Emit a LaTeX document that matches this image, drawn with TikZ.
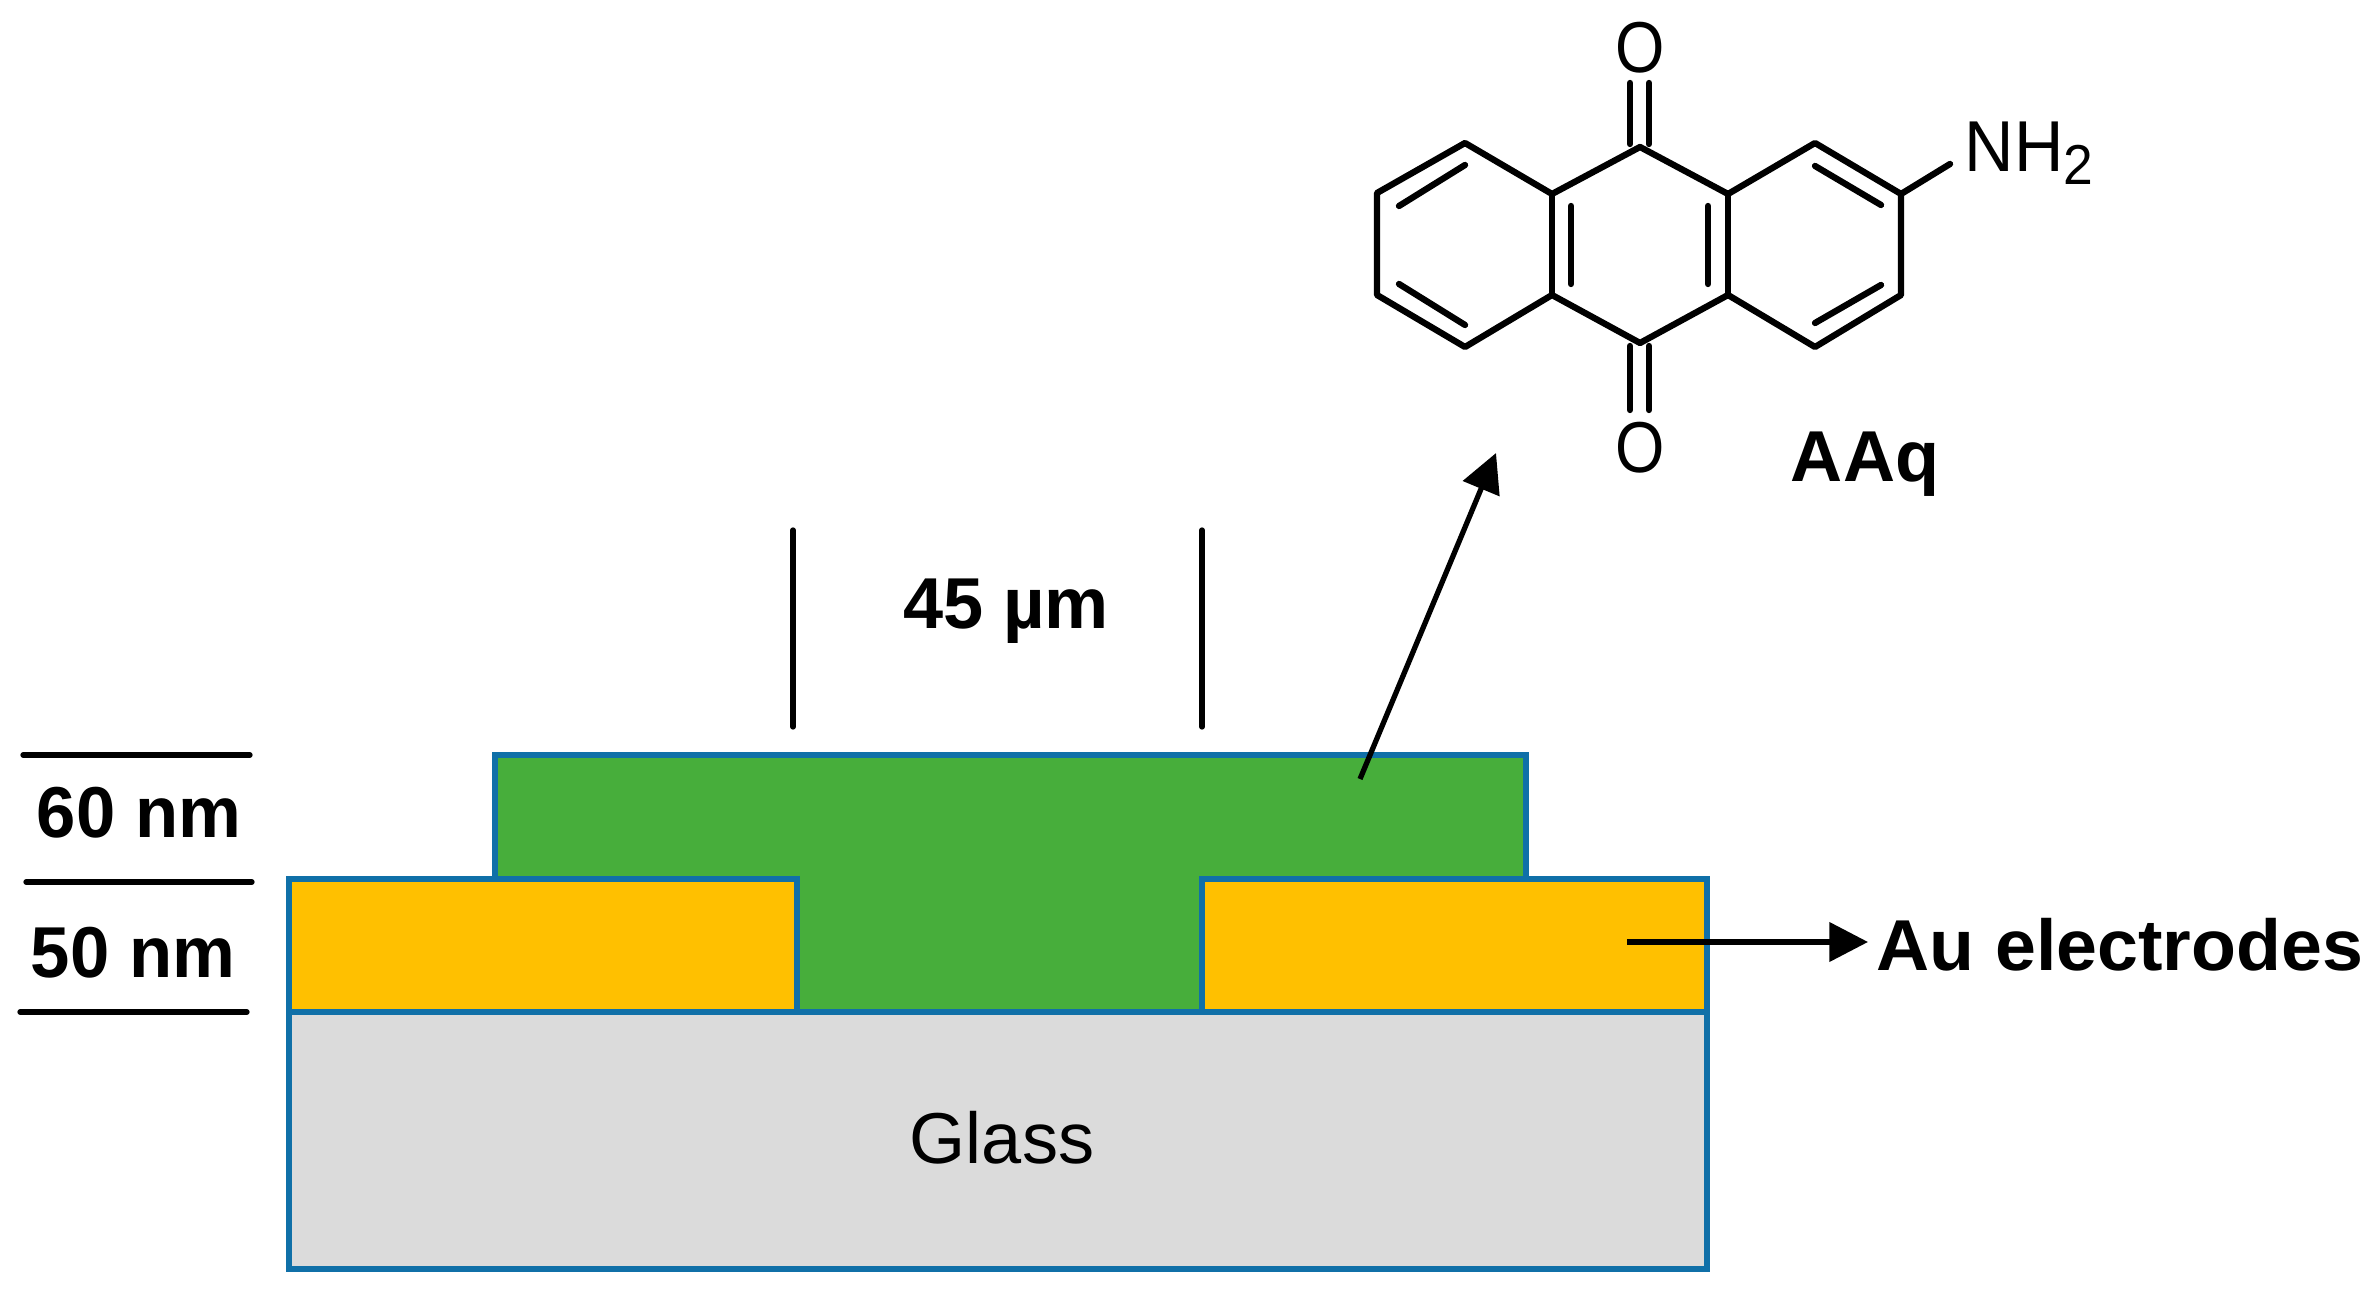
\documentclass[tikz,border=0pt]{standalone}
\usepackage{fontspec}
\setmainfont{Liberation Sans}
\usetikzlibrary{arrows.meta}
\definecolor{layerline}{HTML}{1070A8}
\definecolor{filmgreen}{HTML}{47AE3B}
\definecolor{augold}{HTML}{FFC000}
\definecolor{glassgray}{HTML}{DBDBDB}
\tikzset{
    layer/.style={draw=layerline, line width=1.45pt},
    bond/.style={black, line width=1.8pt, line cap=round, line join=round},
    mark line/.style={black, line width=1.5pt, line cap=round},
    pointer/.style={black, line width=1.5pt, -{Triangle[length=11pt, width=11pt]}},
    lbl/.style={inner sep=0pt, anchor=base, font=\fontsize{20.5}{24}\selectfont},
    boldlbl/.style={lbl, font=\fontsize{20.5}{24}\selectfont\bfseries},
}
\begin{document}
\begin{tikzpicture}[x=0.01cm, y=-0.01cm]
            \useasboundingbox (0,0) rectangle (2380,1307);

            \filldraw[layer, fill=filmgreen] (495,755) rectangle (1526,1012);
            \filldraw[layer, fill=augold] (289,879) rectangle (797,1012);
            \filldraw[layer, fill=augold] (1202,879) rectangle (1707,1012);
            \filldraw[layer, fill=glassgray] (289,1012) rectangle (1707,1269);

            \node[lbl] (glass) at (1002,1163) {Glass};
            \node[boldlbl] (width) at (1006,629) {45 µm};
            \node[boldlbl, xscale=0.98] (film) at (139,837) {60 nm};
            \node[boldlbl, xscale=0.98] (gold) at (133,977) {50 nm};
            \node[boldlbl, xscale=1.02] (au) at (2120,970) {Au electrodes};
            \node[boldlbl] (aaq) at (1865,482) {AAq};

            \foreach \n/\xa/\ya/\xb/\yb in {wl/793/530/793/727, wr/1202/530/1202/727, ta/23/755/250/755, tb/26/882/252/882, tc/20/1012/247/1012} {
                \coordinate (\n a) at (\xa,\ya);
                \coordinate (\n b) at (\xb,\yb);
                \draw[mark line] (\n a) -- (\n b);
            }

            \coordinate (filmpt) at (1360,779);
            \coordinate (aaqpt) at (1496,453);
            \coordinate (aupt) at (1627,942);
            \coordinate (autip) at (1868,942);
            \draw[pointer] (filmpt) -- (aaqpt);
            \draw[pointer] (aupt) -- (autip);

            \foreach \n/\xa/\ya in {a/1465/143, b/1377/193, c/1377/295, d/1465/347, e/1552/295, f/1552/194, g/1640/147, h/1640/343, i/1728/194, j/1728/295, k/1815/143, l/1901/194, m/1901/295, n/1815/347, p/1950/164,
                    q/1465/165, r/1399/206, s/1399/284, t/1465/325, u/1571/206, v/1571/284, w/1708/206, y/1708/284, z/1815/166, aa/1881/205, ab/1881/285, ac/1815/323,
                    ad/1630/83, ae/1630/144, af/1649/83, ag/1649/144, ah/1630/346, ai/1630/410, aj/1649/346, ak/1649/410} {
                \coordinate (\n) at (\xa,\ya);
            }
            \draw[bond] (g) -- (f) -- (a) -- (b) -- (c) -- (d) -- (e) -- (h) -- (j) -- (n) -- (m) -- (l) -- (k) -- (i) -- (g);
            \foreach \s/\t in {f/e, i/j, l/p, q/r, s/t, u/v, w/y, z/aa, ab/ac, ad/ae, af/ag, ah/ai, aj/ak} {
                \draw[bond] (\s) -- (\t);
            }

            \node[lbl, xscale=0.88] (otop) at (1640,73) {O};
            \node[lbl, xscale=0.88] (obot) at (1640,473) {O};
            \node[lbl, xscale=0.95, anchor=base west] (nhtwo) at (1964,172) {NH\raisebox{-3.7pt}{\fontsize{16}{16}\selectfont 2}};
        \end{tikzpicture}
\end{document}
